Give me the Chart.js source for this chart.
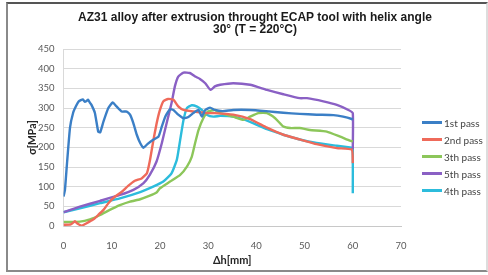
<!DOCTYPE html>
<html>
<head>
<meta charset="utf-8">
<script src="https://cdn.jsdelivr.net/npm/chart.js@4.4.1/dist/chart.umd.min.js"></script>
<style>
  body { margin: 0; background: #fff; }
  #wrap { position: relative; width: 488px; height: 275px; overflow: hidden; }
  #frame {
    position: absolute; left: 6px; top: 2px; width: 478px; height: 266px;
    border: 2px solid #8a8a8a; border-top-color: #555; border-right-color: #ddd;
  }
  #title {
    position: absolute; left: 35px; width: 440px; top: 11px;
    text-align: center; font: bold 12px "Liberation Sans", Arial, sans-serif;
    line-height: 12px; color: #1a1a1a;
  }
  #legend { position: absolute; left: 422px; top: 114px; font: 10px Lato, sans-serif; color: #444; }
  .item { height: 17px; display: flex; align-items: center; }
  .swatch { width: 20px; height: 2.5px; margin-right: 2px; }
  canvas { position: absolute; left: 0; top: 0; }
</style>
</head>
<body>
<div id="wrap">
  <div id="frame"></div>
  <canvas id="chart" width="488" height="275"></canvas>
  <div id="title">AZ31 alloy after extrusion throught ECAP tool with helix angle<br>30° (T = 220°C)</div>
  <div id="legend"></div>
</div>
<script>
const seriesNames = ["1st pass", "2nd pass", "3th pass", "5th pass", "4th pass"];
const seriesColors = ["#3b7fc6", "#ef6a5a", "#8cc65a", "#8a60c4", "#2cbcdc"];

const pass1X = [0, 0.3, 0.7, 1.35, 2, 2.6, 3.1, 3.6, 4, 4.4, 4.8, 5.1, 5.5, 5.8, 6.5, 7.2, 7.6, 8.3, 9.3, 10.2, 11, 12.1, 13.1, 13.8, 14.5, 15.2, 15.9, 16.6, 17.4, 18.6, 19.7, 20.4, 21.1, 22.1, 22.8, 23.8, 24.9, 25.9, 26.9, 28, 28.7, 29.4, 30.4, 31.4, 33, 35.2, 38.7, 42, 45.6, 49, 52.5, 56, 58, 59.8, 60];
const pass1Y = [75, 92, 155, 250, 288, 305, 316, 320, 322, 316, 318, 321, 313, 308, 288, 240, 238, 266, 300, 314, 304, 291, 291, 283, 261, 232, 211, 199, 208, 219, 227, 253, 278, 297, 295, 283, 274, 277, 287, 295, 278, 295, 301, 295, 292, 295, 295, 292, 288, 285, 283, 282, 278, 272, 270];

const pass2X = [0, 1.5, 2.4, 2.8, 3.8, 4.8, 6.2, 7.2, 8.3, 9.3, 10.7, 12.1, 13.4, 14.8, 16.2, 17.3, 17.9, 18.6, 19.3, 19.9, 20.7, 21.7, 22.8, 23.8, 24.9, 26.9, 29.7, 31.4, 35.2, 38.7, 42.2, 45.6, 49, 52.5, 56.7, 59.8, 60];
const pass2Y = [3, 4, 12, 7, 1, 7, 17, 28, 41, 58, 75, 87, 102, 115, 121, 134, 165, 215, 260, 291, 317, 323, 321, 304, 295, 291, 287, 287, 283, 272, 250, 232, 220, 208, 198, 194, 160];

const pass3X = [0, 3.4, 5.5, 7.6, 9.6, 11.7, 13.8, 15.9, 17.9, 19.3, 20, 22.1, 24.2, 25.6, 26.6, 27.3, 28, 29, 30, 31.4, 32.5, 35.2, 37.3, 38.7, 40.4, 42.2, 43.9, 45.6, 47, 49, 51.1, 54.6, 57.4, 59.4, 60];
const pass3Y = [10, 11, 17, 28, 41, 53, 62, 68, 77, 85, 96, 113, 130, 151, 176, 211, 244, 274, 291, 295, 287, 278, 270, 278, 287, 287, 274, 253, 249, 249, 244, 240, 227, 217, 215];

const pass5X = [0, 3.4, 7.6, 11.7, 14.5, 16.6, 17.9, 19.3, 20.4, 21.4, 22.4, 23.1, 23.8, 24.9, 26.2, 27.3, 28.3, 29.4, 30.5, 31.4, 32.5, 35.2, 38.7, 42.2, 45.6, 49, 50.5, 53.9, 56.7, 59.1, 60, 60];
const pass5Y = [35, 49, 64, 79, 92, 109, 130, 164, 211, 262, 312, 355, 380, 390, 389, 380, 374, 363, 346, 355, 359, 363, 359, 346, 335, 325, 325, 317, 308, 295, 287, 195];

const pass4X = [0, 3.4, 7.6, 11.7, 15.9, 18.6, 20.7, 22.4, 23.5, 24.2, 24.9, 25.6, 26.6, 27.6, 28.7, 29.7, 31.1, 32.5, 35.2, 38.7, 42.2, 45.6, 49, 52.5, 56.7, 59.8, 60, 60];
const pass4Y = [35, 45, 58, 70, 86, 100, 113, 134, 168, 219, 270, 300, 307, 304, 295, 283, 278, 280, 278, 265, 246, 232, 220, 211, 204, 199, 199, 83];

const xTicks = [0, 10, 20, 30, 40, 50, 60, 70];
const yTicks = [0, 50, 100, 150, 200, 250, 300, 350, 400, 450];

const seriesX = [pass1X, pass2X, pass3X, pass5X, pass4X];
const seriesY = [pass1Y, pass2Y, pass3Y, pass5Y, pass4Y];

const tickFont = { family: "Lato", size: 9.5 };

const datasets = seriesNames.map((name, i) => ({
  label: name,
  data: seriesX[i].map((x, j) => ({ x, y: seriesY[i][j] })),
  borderColor: seriesColors[i],
  backgroundColor: seriesColors[i],
  borderWidth: 2.4,
  pointRadius: 0,
  tension: 0.15,
  showLine: true
}));

new Chart(document.getElementById("chart"), {
  type: "scatter",
  data: { datasets },
  options: {
    responsive: false,
    animation: false,
    layout: { padding: { top: 49, right: 87, left: 0, bottom: 0 } },
    plugins: { legend: { display: false }, tooltip: { enabled: false } },
    scales: {
      x: {
        type: "linear",
        min: xTicks[0],
        max: xTicks[xTicks.length - 1],
        afterBuildTicks: (s) => { s.ticks = xTicks.map((v) => ({ value: v })); },
        afterFit: (s) => { s.height = 49; },
        grid: { display: false },
        border: { display: true, color: "#c8c8c8" },
        ticks: { font: tickFont, color: "#595959", padding: 6, maxRotation: 0 },
        title: {
          display: true, text: "Δh[mm]", color: "#262626",
          font: { family: "Lato", size: 11, weight: "bold" },
          padding: { top: 0, bottom: 8 }
        }
      },
      y: {
        min: yTicks[0],
        max: yTicks[yTicks.length - 1],
        afterBuildTicks: (s) => { s.ticks = yTicks.map((v) => ({ value: v })); },
        afterFit: (s) => { s.width = 63.5; },
        grid: { color: "#d9d9d9", drawTicks: false },
        border: { display: true, color: "#d9d9d9" },
        ticks: { font: tickFont, color: "#595959", padding: 9 },
        title: {
          display: true, text: "σ[MPa]", color: "#262626",
          font: { family: "Lato", size: 10.5, weight: "bold" },
          padding: { top: 26, bottom: 0 }
        }
      }
    }
  }
});

const legend = document.getElementById("legend");
seriesNames.forEach((name, i) => {
  const row = document.createElement("div");
  row.className = "item";
  row.innerHTML = `<span class="swatch" style="background:${seriesColors[i]}"></span>${name}`;
  legend.appendChild(row);
});
</script>
</body>
</html>
